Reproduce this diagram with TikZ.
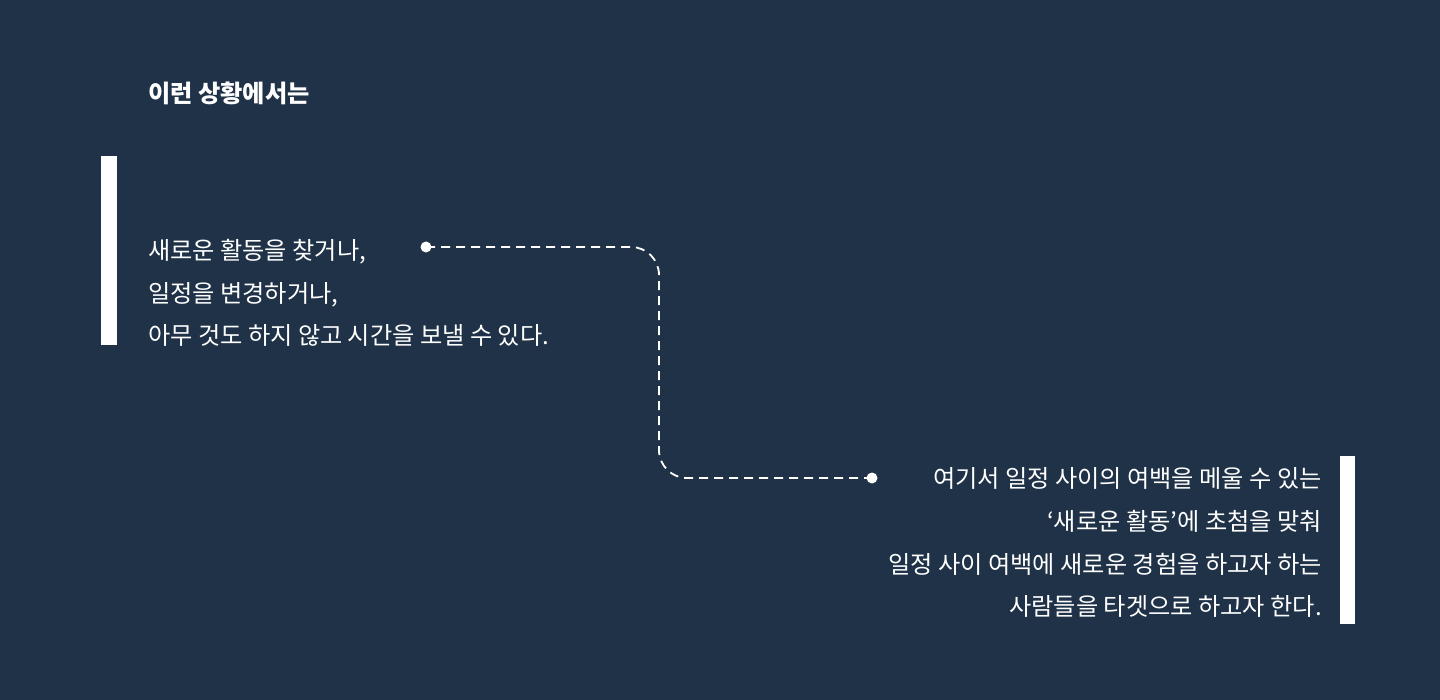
\documentclass[tikz,border=0pt]{standalone}
\usepackage{fontspec}
\setmainfont{Noto Sans CJK KR}
\definecolor{bgnavy}{RGB}{31,50,71}
\definecolor{fg}{RGB}{255,255,255}
\begin{document}
\begin{tikzpicture}[x=1pt,y=-1pt,
  body/.style={text=fg,font=\fontsize{24.2}{28}\selectfont,inner sep=0pt},
  title/.style={text=fg,font=\fontsize{24.2}{28}\selectfont\bfseries,inner sep=0pt},
  bar/.style={fill=fg,draw=none},
  dotmark/.style={circle,fill=fg,draw=none,minimum size=11pt,inner sep=0pt},
  link/.style={draw=fg,line width=1.8pt,dash pattern=on 9pt off 6pt,rounded corners=28pt}]
\fill[bgnavy] (0,0) rectangle (1440,700);
\useasboundingbox (0,0) rectangle (1440,700);
% title
\node[title,anchor=base west] (title) at (148,103) {이런 상황에서는};
% left bar and text
\fill[bar] (101,156) rectangle (117,345);
\node[body,anchor=base west] (l1) at (148,260) {새로운 활동을 찾거나,};
\node[body,anchor=base west] (l2) at (148,303) {일정을 변경하거나,};
\node[body,anchor=base west] (l3) at (148,345) {아무 것도 하지 않고 시간을 보낼 수 있다.};
% right bar and text
\fill[bar] (1340,456) rectangle (1355,624);
\node[body,anchor=base east] (r1) at (1322,487) {여기서 일정 사이의 여백을 메울 수 있는};
\node[body,anchor=base east] (r2) at (1322,530) {‘새로운 활동’에 초첨을 맞춰};
\node[body,anchor=base east] (r3) at (1322,573) {일정 사이 여백에 새로운 경험을 하고자 하는};
\node[body,anchor=base east] (r4) at (1322,615) {사람들을 타겟으로 하고자 한다.};
% connector
\node[dotmark] (da) at (426,247) {};
\node[dotmark] (db) at (872,478) {};
\coordinate (c1) at (659,247);
\coordinate (c2) at (659,478);
\draw[link] (da.center) -- (c1) -- (c2) -- (db.center);
\end{tikzpicture}
\end{document}
